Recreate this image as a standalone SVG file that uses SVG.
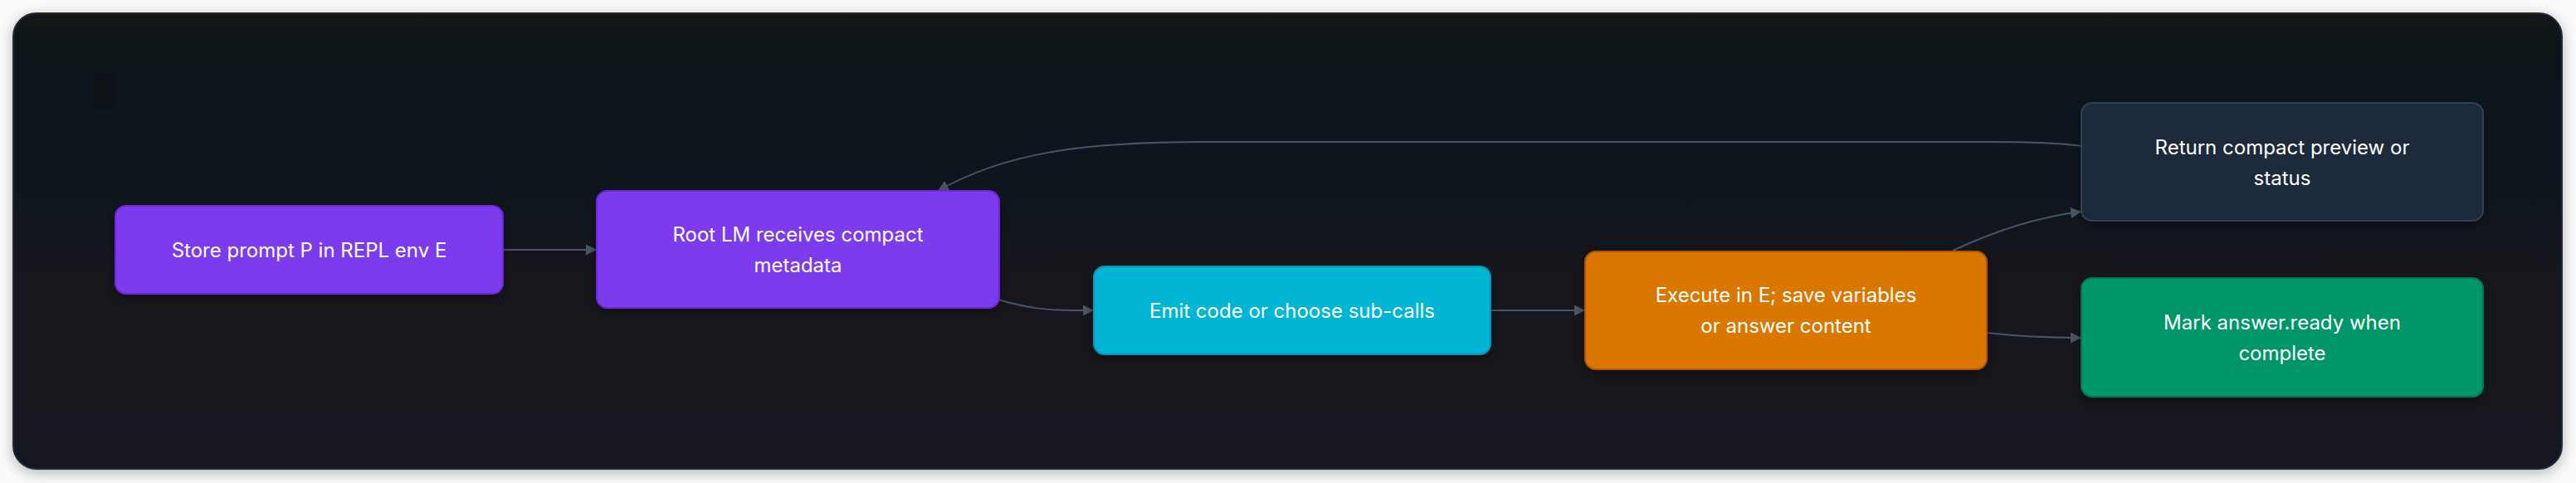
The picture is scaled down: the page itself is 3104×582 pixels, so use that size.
<svg xmlns="http://www.w3.org/2000/svg" width="3104" height="582" viewBox="0 0 3104 582">
  <style>
    .node rect { stroke-width: 2; }
    .label { font-family: Inter, "Noto Sans", "Liberation Sans", sans-serif; font-size: 24px; fill: #ffffff; text-anchor: middle; dominant-baseline: central; }
    .edge { fill: none; stroke: #475569; stroke-width: 2; marker-end: url(#arrow); }
    .purple { fill: #7c3aed; stroke: #6d28d9; }
    .cyan { fill: #06b6d4; stroke: #0891b2; }
    .orange { fill: #d97706; stroke: #b45309; }
    .green { fill: #059669; stroke: #047857; }
    .slate { fill: #1e293b; stroke: #334155; }
  </style>
  <defs>
    <linearGradient id="cardGrad" x1="0" y1="0" x2="0" y2="1">
      <stop offset="0" stop-color="#121318"/>
      <stop offset="0.15" stop-color="#10121a"/>
      <stop offset="1" stop-color="#141520"/>
    </linearGradient>
    <filter id="cardShadow" x="-5%" y="-20%" width="110%" height="140%">
      <feDropShadow dx="0" dy="4" stdDeviation="8" flood-color="#000000" flood-opacity="0.28"/>
    </filter>
    <filter id="nodeShadow" x="-10%" y="-20%" width="120%" height="150%">
      <feDropShadow dx="0" dy="4" stdDeviation="6" flood-color="#000000" flood-opacity="0.35"/>
    </filter>
    <marker id="arrow" markerUnits="userSpaceOnUse" markerWidth="14" markerHeight="14" refX="13" refY="6.5" orient="auto">
      <path d="M0,0 L13,6.5 L0,13 z" fill="#4b5563"/>
    </marker>
  </defs>

  <rect x="0" y="0" width="3104" height="582" fill="#fafafa"/>
  <rect id="card" x="16" y="16" width="3071" height="549" rx="28" ry="28" fill="url(#cardGrad)" stroke="#1e293b" stroke-width="2" filter="url(#cardShadow)"/>
  <rect x="111" y="89" width="28" height="41" fill="#0f1014" opacity="0.7"/>

  <g id="connectors">
    <path class="edge" d="M606,301 L719,301"/>
    <path class="edge" d="M1203,361 C1240,372 1265,374 1295,374 L1318,374"/>
    <path class="edge" d="M1796,374 L1910,374"/>
    <path class="edge" d="M2353,302 C2400,280 2450,262 2508,255"/>
    <path class="edge" d="M2394,401 C2430,405 2465,407 2508,407"/>
    <path class="edge" d="M2508,176 C2480,172 2440,171 2400,171 L1450,171 C1300,171 1210,185 1130,230"/>
  </g>

  <g id="node-store" class="node">
    <rect class="purple" x="139" y="248" width="467" height="106" rx="13" filter="url(#nodeShadow)"/>
    <text class="label" x="372.5" y="301">Store prompt P in REPL env E</text>
  </g>
  <g id="node-root" class="node">
    <rect class="purple" x="719" y="230" width="485" height="141" rx="13" filter="url(#nodeShadow)"/>
    <text class="label" x="961.5" y="282">Root LM receives compact</text>
    <text class="label" x="961.5" y="319">metadata</text>
  </g>
  <g id="node-emit" class="node">
    <rect class="cyan" x="1318" y="321" width="478" height="106" rx="13" filter="url(#nodeShadow)"/>
    <text class="label" x="1557" y="374">Emit code or choose sub-calls</text>
  </g>
  <g id="node-exec" class="node">
    <rect class="orange" x="1910" y="303" width="484" height="142" rx="13" filter="url(#nodeShadow)"/>
    <text class="label" x="2152" y="355.5">Execute in E; save variables</text>
    <text class="label" x="2152" y="392.5">or answer content</text>
  </g>
  <g id="node-return" class="node">
    <rect class="slate" x="2508" y="124" width="484" height="142" rx="13" filter="url(#nodeShadow)"/>
    <text class="label" x="2750" y="177">Return compact preview or</text>
    <text class="label" x="2750" y="214">status</text>
  </g>
  <g id="node-mark" class="node">
    <rect class="green" x="2508" y="335" width="484" height="143" rx="13" filter="url(#nodeShadow)"/>
    <text class="label" x="2750" y="388">Mark answer.ready when</text>
    <text class="label" x="2750" y="425">complete</text>
  </g>
</svg>
